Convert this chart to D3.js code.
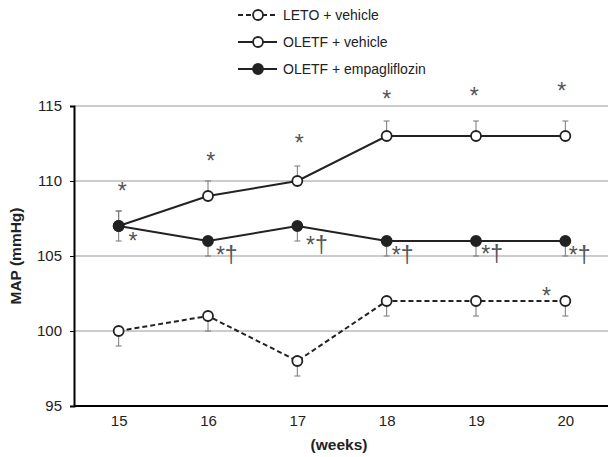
<!DOCTYPE html>
<html>
<head>
<meta charset="utf-8">
<script src="https://cdn.jsdelivr.net/npm/d3@7"></script>
<style>
  body { margin: 0; background: #fff; }
  text { font-family: Arial, "Liberation Sans", sans-serif; }
</style>
</head>
<body>
<svg id="chart" width="608" height="457"></svg>
<script>
// weeks on the x axis
var weeks = [15, 16, 17, 18, 19, 20];
var yTicks = [95, 100, 105, 110, 115];

// MAP means and SE (mmHg)
var letoVehicle = [100, 101, 98, 102, 102, 102];
var letoErr = [1, 1, 1, 1, 1, 1];
var oletfVehicle = [107, 109, 110, 113, 113, 113];
var oletfVehicleErr = [1, 1, 1, 1, 1, 1];
var oletfEmpa = [107, 106, 107, 106, 106, 106];
var oletfEmpaErr = [1, 1, 1, 1, 1, 1];

// significance marks: [week, mmHg, label]
var marks = [
  [15.04, 109.5, "*"], [16.03, 111.47, "*"], [17.02, 112.67, "*"],
  [18.0, 115.6, "*"], [18.98, 115.8, "*"], [19.96, 116.13, "*"],
  [15.16, 106.13, "*"],
  [16.21, 105.2, "*†"], [17.22, 105.87, "*†"], [18.18, 105.2, "*†"],
  [19.18, 105.27, "*†"], [20.16, 105.2, "*†"],
  [19.79, 102.5, "*"]
];

var legendLabels = ["LETO + vehicle", "OLETF + vehicle", "OLETF + empagliflozin"];

var svg = d3.select("#chart");
var x = d3.scaleLinear().domain([14.5, 20.5]).range([74, 610]);
var y = d3.scaleLinear().domain([95, 115]).range([406, 106]);

// gridlines
svg.append("g").selectAll("line").data(yTicks.slice(1)).enter().append("line")
  .attr("x1", 74).attr("x2", 608)
  .attr("y1", function (d) { return y(d); }).attr("y2", function (d) { return y(d); })
  .attr("stroke", "#999").attr("stroke-width", 1);

// axes
var yAxis = svg.append("g").attr("transform", "translate(74,0)")
  .call(d3.axisLeft(y).tickValues(yTicks).tickSize(4).tickPadding(8));
yAxis.select(".domain").attr("stroke-width", 2);
yAxis.selectAll("text").attr("font-size", 15).attr("fill", "#222")
  .attr("font-family", "Arial, 'Liberation Sans', sans-serif");

var xAxis = svg.append("g").attr("transform", "translate(0,406)")
  .call(d3.axisBottom(x).tickValues(weeks).tickFormat(d3.format("d"))
    .tickSize(0).tickPadding(9).tickSizeOuter(0));
xAxis.select(".domain").attr("stroke-width", 2).attr("d", "M74,0H608");
xAxis.selectAll("text").attr("font-size", 15).attr("fill", "#222")
  .attr("font-family", "Arial, 'Liberation Sans', sans-serif");

svg.append("text").attr("x", 339).attr("y", 450).attr("text-anchor", "middle")
  .attr("font-size", 15.5).attr("font-weight", "bold").attr("fill", "#222").text("(weeks)");
svg.append("text").attr("transform", "translate(21,256) rotate(-90)").attr("text-anchor", "middle")
  .attr("font-size", 15.5).attr("font-weight", "bold").attr("fill", "#222").text("MAP (mmHg)");

var series = [
  { vals: letoVehicle, err: letoErr, dir: -1, dash: "5,3", fill: "#fff" },
  { vals: oletfVehicle, err: oletfVehicleErr, dir: 1, dash: null, fill: "#fff" },
  { vals: oletfEmpa, err: oletfEmpaErr, dir: -1, dash: null, fill: "#222" }
];

var line = d3.line()
  .x(function (d, i) { return x(weeks[i]); })
  .y(function (d) { return y(d); });

series.forEach(function (s, k) {
  var g = svg.append("g");
  // error bars
  s.vals.forEach(function (v, i) {
    var dirs = (k === 2 && i === 0) ? [1, -1] : [s.dir];
    dirs.forEach(function (dir) {
      var ye = y(v + dir * s.err[i]);
      g.append("line").attr("x1", x(weeks[i])).attr("x2", x(weeks[i]))
        .attr("y1", y(v)).attr("y2", ye).attr("stroke", "#777").attr("stroke-width", 1);
      g.append("line").attr("x1", x(weeks[i]) - 3).attr("x2", x(weeks[i]) + 3)
        .attr("y1", ye).attr("y2", ye).attr("stroke", "#777").attr("stroke-width", 1);
    });
  });
  g.append("path").attr("d", line(s.vals)).attr("fill", "none")
    .attr("stroke", "#222").attr("stroke-width", 2)
    .attr("stroke-dasharray", s.dash);
  g.selectAll("circle").data(s.vals).enter().append("circle")
    .attr("cx", function (d, i) { return x(weeks[i]); })
    .attr("cy", function (d) { return y(d); })
    .attr("r", 5).attr("fill", s.fill).attr("stroke", "#222").attr("stroke-width", 1.8);
});

// significance marks
svg.append("g").selectAll("text").data(marks).enter().append("text")
  .attr("x", function (d) { return x(d[0]); })
  .attr("y", function (d) { return y(d[1]); })
  .attr("dy", 10)
  .attr("text-anchor", "middle")
  .attr("font-family", "'Liberation Serif', 'DejaVu Serif', serif")
  .attr("font-size", 23).attr("fill", "#555")
  .text(function (d) { return d[2]; });

// legend
var leg = svg.append("g").selectAll("g").data(legendLabels).enter().append("g")
  .attr("transform", function (d, i) { return "translate(238," + (15 + i * 27) + ")"; });
leg.append("line").attr("x1", 0).attr("x2", 39).attr("y1", 0).attr("y2", 0)
  .attr("stroke", "#222").attr("stroke-width", 2)
  .attr("stroke-dasharray", function (d, i) { return series[i].dash; });
leg.append("circle").attr("cx", 20).attr("cy", 0).attr("r", 5)
  .attr("fill", function (d, i) { return series[i].fill; })
  .attr("stroke", "#222").attr("stroke-width", 1.8);
leg.append("text").attr("x", 45).attr("y", 5).attr("font-size", 14).attr("fill", "#222")
  .text(function (d) { return d; });
</script>
</body>
</html>
